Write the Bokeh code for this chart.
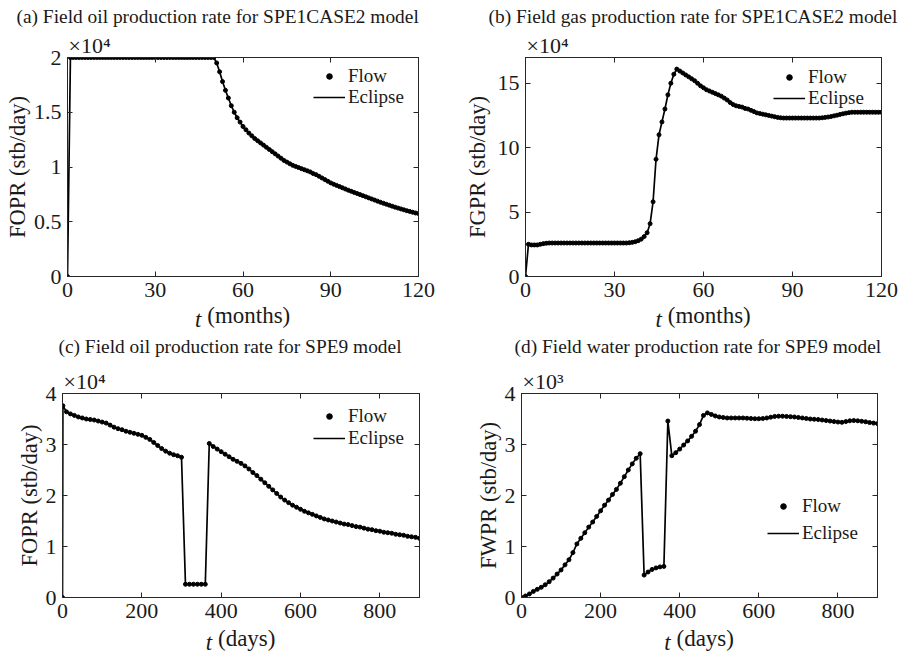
from bokeh.plotting import figure
from bokeh.models import Range1d, FixedTicker, LinearAxis, Label, Legend, LegendItem, Title
from bokeh.layouts import column, row
from bokeh.embed import file_html
from bokeh.resources import INLINE

# ---------------- data ----------------
months = list(range(0, 121))

# (a) SPE1CASE2 field oil production rate (stb/day)
fopr_spe1 = [
    0, 20000, 20000, 20000, 20000, 20000, 20000, 20000, 20000, 20000,
    20000, 20000, 20000, 20000, 20000, 20000, 20000, 20000, 20000, 20000,
    20000, 20000, 20000, 20000, 20000, 20000, 20000, 20000, 20000, 20000,
    20000, 20000, 20000, 20000, 20000, 20000, 20000, 20000, 20000, 20000,
    20000, 20000, 20000, 20000, 20000, 20000, 20000, 20000, 20000, 20000,
    20000, 19500, 18700, 17800, 17000, 16300, 15600, 15000, 14500, 14100,
    13700, 13400, 13100, 12850, 12600, 12400, 12200, 12000, 11800, 11600,
    11400, 11200, 11000, 10800, 10600, 10450, 10300, 10150, 10050, 9950,
    9850, 9750, 9650, 9550, 9400, 9300, 9150, 9000, 8850, 8700,
    8550, 8430, 8320, 8210, 8100, 7990, 7880, 7780, 7680, 7580,
    7480, 7380, 7280, 7180, 7080, 6980, 6880, 6780, 6690, 6600,
    6510, 6420, 6330, 6250, 6170, 6090, 6010, 5940, 5870, 5800,
    5750,
]

# (b) SPE1CASE2 field gas production rate (stb/day)
fgpr_spe1 = [
    0, 25000, 24500, 24500, 24500, 25000, 25500, 25800, 26000, 26000,
    26000, 26000, 26000, 26000, 26000, 26000, 26000, 26000, 26000, 26000,
    26000, 26000, 26000, 26000, 26000, 26000, 26000, 26000, 26000, 26000,
    26000, 26000, 26000, 26000, 26000, 26200, 26500, 27000, 27800, 29000,
    31000, 34000, 41000, 58000, 91000, 110000, 120000, 130000, 141000, 150000,
    157000, 161000, 159500, 158000, 156500, 155000, 153500, 152000, 150000, 148000,
    146500, 145000, 144000, 143000, 142000, 141000, 140000, 138500, 137000, 135000,
    133500, 132500, 132000, 131500, 130500, 130000, 129000, 128000, 127000, 126500,
    126000, 125500, 125000, 124500, 124000, 123500, 123200, 123000, 123000, 123000,
    123000, 123000, 123000, 123000, 123000, 123000, 123000, 123000, 123000, 123000,
    123200, 123500, 123800, 124200, 124700, 125200, 125800, 126300, 126800, 127200,
    127500, 127500, 127500, 127500, 127500, 127500, 127500, 127500, 127500, 127500,
    127500,
]

# (c) SPE9 field oil production rate (stb/day)
days_c = [0, 1] + list(range(10, 901, 10))
fopr_spe9 = [
    0, 37600,
    36400, 36000, 35700, 35400, 35200, 35000, 34900, 34800, 34600, 34400,
    34200, 33800, 33400, 33100, 32900, 32600, 32400, 32200, 32000, 31800,
    31400, 31000, 30400, 29800, 29200, 28700, 28300, 28000, 27800, 27500,
    2600, 2600, 2600, 2600, 2600, 2600, 30200, 29600, 29100, 28600,
    28100, 27600, 27100, 26700, 26300, 25800, 25200, 24500, 23900, 23200,
    22500, 21800, 21100, 20400, 19700, 19100, 18600, 18100, 17700, 17300,
    16900, 16600, 16300, 16000, 15700, 15400, 15200, 15000, 14800, 14600,
    14400, 14300, 14100, 13900, 13800, 13600, 13400, 13300, 13100, 13000,
    12800, 12700, 12600, 12400, 12300, 12200, 12000, 11900, 11800, 11600,
]

# (d) SPE9 field water production rate (stb/day)
days_d = list(range(0, 901, 10))
fwpr_spe9 = [
    0, 30, 70, 120, 160, 200, 250, 310, 380, 460,
    540, 640, 740, 880, 1050, 1160, 1270, 1380, 1480, 1590,
    1700, 1810, 1910, 2020, 2120, 2240, 2370, 2500, 2620, 2730,
    2820, 440, 500, 550, 580, 600, 610, 3460, 2780, 2840,
    2910, 2990, 3070, 3160, 3260, 3390, 3570, 3620, 3590, 3560,
    3540, 3530, 3520, 3520, 3520, 3520, 3520, 3515, 3510, 3505,
    3505, 3510, 3520, 3535, 3550, 3555, 3555, 3550, 3545, 3540,
    3530, 3520, 3510, 3500, 3495, 3490, 3480, 3470, 3460, 3450,
    3440, 3435, 3450, 3465, 3470, 3465, 3455, 3445, 3430, 3420,
    3410,
]

xticks_months = [0, 30, 60, 90, 120]
xticks_days = [0, 200, 400, 600, 800]
yticks_a = [0, 5000, 10000, 15000, 20000]
ylabels_a = ["0", "0.5", "1", "1.5", "2"]
yticks_b = [0, 50000, 100000, 150000]
ylabels_b = ["0", "5", "10", "15"]
yticks_c = [0, 10000, 20000, 30000, 40000]
ylabels_c = ["0", "1", "2", "3", "4"]
yticks_d = [0, 1000, 2000, 3000, 4000]
ylabels_d = ["0", "1", "2", "3", "4"]

FONT = "Liberation Serif"
AX = "#262626"
TXT = "#1a1a1a"
TICK_FS = 22
XLAB_FS = 23
YLAB_FS = 22.5
TITLE_FS = 19.4
EXP_FS = 22
LEG_FS = 19
NB = "\u00a0"
UNIT_EM = {"(months)": 3.611, "(days)": 2.499}


def add_legend_item(p, fh, label, rend, leg_x, yc, gh):
    # one-item legend; row about 23 px high, centred yc px below the frame top
    leg = Legend(items=[LegendItem(label=label, renderers=[rend])],
                 location=(leg_x, fh - yc - 11.5),
                 border_line_color=None, background_fill_alpha=0,
                 padding=0, margin=0, spacing=0,
                 glyph_width=32, glyph_height=gh, label_height=20,
                 label_standoff=3, label_text_font=FONT,
                 label_text_font_size=f"{LEG_FS}px",
                 label_text_color=TXT)
    p.add_layout(leg)


def make_panel(x, y, xr, yr, xticks, yticks, ylabels, title, ylabel, xunit, expo,
               fw, fh, bl, br, bt, bb, title_x, title_y, ylab_sd, xlab_sd, t_dy,
               leg_x, yc_flow, yc_ecl):
    p = figure(frame_width=fw, frame_height=fh,
               min_border_left=bl, min_border_right=br,
               min_border_top=bt, min_border_bottom=bb,
               x_range=Range1d(*xr), y_range=Range1d(*yr),
               output_backend="svg", toolbar_location=None, title=None)
    p.grid.visible = False
    p.outline_line_color = AX
    p.outline_line_width = 1
    p.background_fill_color = "white"
    p.border_fill_color = "white"

    for ax, ticks, labels in ((p.xaxis[0], xticks, None), (p.yaxis[0], yticks, ylabels)):
        ax.ticker = FixedTicker(ticks=ticks)
        if labels is not None:
            ax.major_label_overrides = {t: l for t, l in zip(ticks, labels)}
        ax.major_label_text_font = FONT
        ax.major_label_text_font_size = f"{TICK_FS}px"
        ax.major_label_text_color = TXT
        ax.major_label_standoff = 6
        ax.major_tick_in = 5
        ax.major_tick_out = 0
        ax.minor_tick_in = 0
        ax.minor_tick_out = 0
        ax.axis_line_color = AX
        ax.major_tick_line_color = AX
        ax.axis_label_text_font = FONT
        ax.axis_label_text_font_style = "normal"
        ax.axis_label_text_color = TXT

    p.yaxis[0].axis_label = ylabel
    p.yaxis[0].axis_label_standoff = ylab_sd
    p.yaxis[0].axis_label_text_font_size = f"{YLAB_FS}px"
    p.xaxis[0].axis_label = NB + NB + xunit
    p.xaxis[0].axis_label_standoff = xlab_sd
    p.xaxis[0].axis_label_text_font_size = f"{XLAB_FS}px"

    for loc, ticks in (("above", xticks), ("right", yticks)):
        ax = LinearAxis(ticker=FixedTicker(ticks=ticks),
                        major_label_text_font_size="0px", major_label_text_color=None,
                        major_label_standoff=0,
                        major_tick_in=5, major_tick_out=0,
                        minor_tick_in=0, minor_tick_out=0,
                        axis_line_color=AX, major_tick_line_color=AX)
        p.add_layout(ax, loc)

    r_line = p.line(x, y, line_width=1.7, color="black")
    r_dot = p.scatter(x, y, size=4, color="black")

    add_legend_item(p, fh, "Flow", r_dot, leg_x, yc_flow, 14)
    add_legend_item(p, fh, "Eclipse", r_line, leg_x, yc_ecl, 20)

    # exponent (nearest the frame) and panel title (outermost, as a side-panel label)
    p.add_layout(Title(text="\u00d710" + expo, align="left", offset=1, standoff=0,
                       text_font=FONT, text_font_size=f"{EXP_FS}px", text_font_style="normal",
                       text_color=TXT), "above")
    p.add_layout(Label(x=title_x, y=title_y, x_units="screen", y_units="screen",
                       text=title, text_font=FONT, text_font_size=f"{TITLE_FS}px",
                       text_color=TXT, text_align="left", text_baseline="middle"), "above")

    # italic "t" of the x-axis label, placed in the right side panel
    unit_w = UNIT_EM[xunit] * XLAB_FS
    lbl_w = 2 * 0.25 * XLAB_FS + unit_w
    t_right = fw / 2 - lbl_w / 2 + 0.25 * XLAB_FS
    p.add_layout(Label(x=t_right - fw, y=t_dy, x_units="screen", y_units="screen",
                       text="t", text_font=FONT, text_font_style="italic",
                       text_font_size=f"{XLAB_FS}px", text_color=TXT,
                       text_align="right", text_baseline="middle"), "right")
    return p


pa = make_panel(months, fopr_spe1, (0, 120), (0, 20000), xticks_months, yticks_a, ylabels_a,
                "(a) Field oil production rate for SPE1CASE2 model", "FOPR (stb/day)", "(months)", "\u2074",
                fw=351, fh=219, bl=67, br=43, bt=57, bb=60,
                title_x=-51, title_y=14.5, ylab_sd=1, xlab_sd=3, t_dy=-43,
                leg_x=246, yc_flow=18.5, yc_ecl=39.5)
pb = make_panel(months, fgpr_spe1, (0, 120), (0, 170000), xticks_months, yticks_b, ylabels_b,
                "(b) Field gas production rate for SPE1CASE2 model", "FGPR (stb/day)", "(months)", "\u2074",
                fw=356, fh=219, bl=60, br=29, bt=57, bb=60,
                title_x=-37, title_y=14.5, ylab_sd=5, xlab_sd=3, t_dy=-43,
                leg_x=248, yc_flow=19, yc_ecl=40)
pc = make_panel(days_c, fopr_spe9, (0, 900), (0, 40000), xticks_days, yticks_c, ylabels_c,
                "(c) Field oil production rate for SPE9 model", "FOPR (stb/day)", "(days)", "\u2074",
                fw=357, fh=204, bl=62, br=42, bt=57, bb=64,
                title_x=-4, title_y=20.5, ylab_sd=1, xlab_sd=5, t_dy=-45,
                leg_x=251, yc_flow=22, yc_ecl=44)
pd_ = make_panel(days_d, fwpr_spe9, (0, 900), (0, 4000), xticks_days, yticks_d, ylabels_d,
                 "(d) Field water production rate for SPE9 model", "FWPR (stb/day)", "(days)", "\u00b3",
                 fw=356, fh=204, bl=60, br=29, bt=57, bb=64,
                 title_x=-7, title_y=20.5, ylab_sd=1, xlab_sd=5, t_dy=-45,
                 leg_x=246, yc_flow=112, yc_ecl=139)

layout = column(row(pa, pb), row(pc, pd_))
open("out.html", "w").write(file_html(layout, INLINE))
